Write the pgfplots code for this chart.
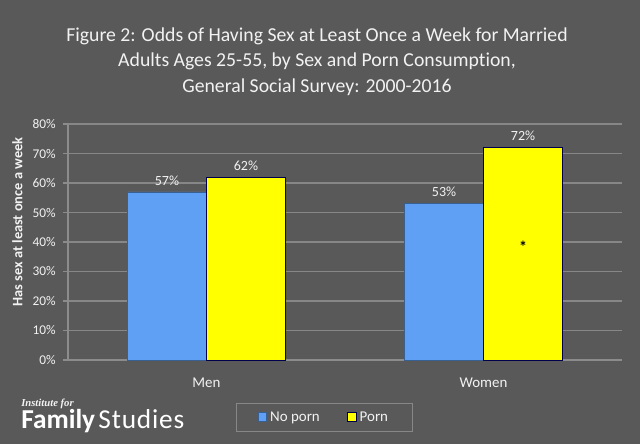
\documentclass[border=0pt]{standalone}
\usepackage{fontspec}
\setmainfont{Carlito}[Ligatures=NoCommon]
\newfontfamily\seriflogo{Liberation Serif}
\usepackage{pgfplots}
\pgfplotsset{compat=1.18}
\definecolor{bgc}{HTML}{595959}
\definecolor{gridc}{HTML}{878787}
\definecolor{axc}{HTML}{8C8C8C}
\definecolor{bluec}{HTML}{5FA0F4}
\definecolor{yelc}{HTML}{FFFF00}
\definecolor{txtc}{HTML}{F2F2F2}
\begin{document}
\begin{tikzpicture}
\fill[bgc] (0,0) rectangle (480pt,333pt);
\useasboundingbox (0,0) rectangle (480pt,333pt);
\begin{axis}[
  at={(68*0.75pt,84*0.75pt)}, anchor=south west,
  scale only axis, width=554*0.75pt, height=236*0.75pt,
  ybar=0pt, bar width=79*0.75pt,
  xmin=-0.5, xmax=1.5, ymin=0, ymax=80,
  xtick={0,1}, xticklabels={Men,Women},
  major x tick style={draw=none},
  extra x ticks={-0.5,0.5,1.5}, extra x tick labels={},
  extra x tick style={major tick length=3pt, tick align=outside, tick style={draw=axc, line width=0.8pt}, grid=none},
  ytick={0,10,...,80},
  yticklabel={\pgfmathprintnumber{\tick}\%},
  /pgf/number format/assume math mode=true,
  ymajorgrids, grid style={draw=gridc, line width=0.9pt},
  y tick style={draw=axc, line width=0.8pt}, tick align=outside, major tick length=3.75pt,
  axis x line*=bottom, axis y line*=left,
  axis line style={draw=axc, line width=0.9pt, -},
  x tick label style={font=\fontsize{11.2}{13}\selectfont, text=txtc, yshift=-6pt},
  y tick label style={font=\fontsize{10}{11}\selectfont, text=txtc, xshift=-2pt},
  nodes near coords={\pgfmathprintnumber{\pgfplotspointmeta}\%},
  nodes near coords style={font=\fontsize{10.5}{12}\selectfont, text=txtc, yshift=1.5pt},
  legend style={at={(axis description cs:0.463,-0.2436)}, anchor=center, draw=gridc, line width=1pt, fill=bgc, text=txtc, font=\fontsize{11.2}{13}\selectfont, legend columns=2, inner xsep=16pt, inner ysep=4pt, nodes={inner xsep=2.5pt}, /tikz/every even column/.append style={column sep=18pt}},
  legend image code/.code={\fill[#1] (0pt,-3pt) rectangle (6.5pt,4pt);},
]
\addplot[fill=bluec, draw=bluec!60!black, line width=0.4pt] coordinates {(0,57) (1,53)};
\addplot[fill=yelc, draw=blue!30!black, line width=0.4pt] coordinates {(0,62) (1,72)};
\legend{No porn, Porn}
\node[font=\bfseries\fontsize{12}{12}\selectfont, text=black] at (axis cs:1.1426,38.4) {*};
\end{axis}
\node[text=txtc, align=center, font=\fontsize{14.8}{19.1}\selectfont] at (317*0.75pt, 333pt-61.5*0.75pt) {Figure 2: Odds of Having Sex at Least Once a Week for Married\\Adults Ages 25-55, by Sex and Porn Consumption,\\General Social Survey: 2000-2016};
\node[text=txtc, rotate=90, font=\bfseries\fontsize{10.8}{12}\selectfont] at (17.5*0.75pt, 333pt-222*0.75pt) {Has sex at least once a week};
\node[text=txtc, anchor=base west, inner sep=0pt, font=\seriflogo\bfseries\itshape\fontsize{8}{9}\selectfont] at (21*0.75pt, 333pt-406*0.75pt) {Institute for};
\node[text=white, anchor=base west, inner sep=0pt, font=\fontsize{20.5}{22}\selectfont] at (21*0.75pt, 333pt-428*0.75pt) {\textbf{Family}\kern2.5pt\addfontfeatures{LetterSpace=3}Studies};
\end{tikzpicture}
\end{document}
